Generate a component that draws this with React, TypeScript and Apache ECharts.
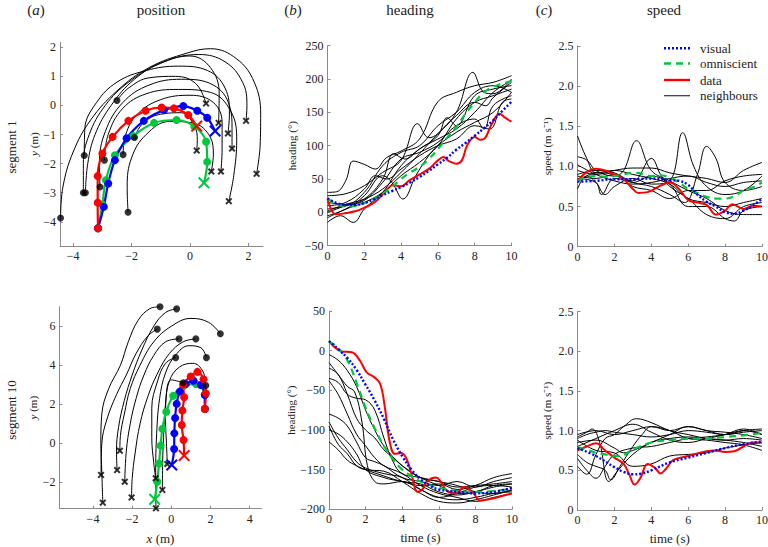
import React, { useEffect, useRef } from 'react';
import * as echarts from 'echarts';

const FONT = "'Liberation Serif', 'Times New Roman', serif";
const AXIS_COLOR = '#8a8a8a';
const TEXT_COLOR = '#222222';
const BLUE = '#0000ff';
const GREEN = '#00c83c';
const RED = '#ff0000';
const BLACK = '#000000';

// ---------- tick values ----------
const posTicksX1 = [-4, -2, 0, 2];
const posTicksY1 = [-4, -3, -2, -1, 0, 1, 2];
const posTicksX10 = [-4, -2, 0, 2, 4];
const posTicksY10 = [-2, 0, 2, 4, 6];

// ---------- segment 1 : positions (x, y in m) ----------
const posRed1 = [[-3.15, -4.22], [-3.16, -3.34], [-3.16, -2.43], [-3.0, -1.65], [-2.65, -1.08], [-2.11, -0.53], [-1.52, -0.18], [-0.97, -0.07], [-0.55, -0.1], [-0.06, -0.33], [0.23, -0.71]];
const posBlue1 = [[-3.15, -4.22], [-2.95, -3.48], [-2.8, -2.68], [-2.57, -1.88], [-2.17, -1.13], [-1.58, -0.53], [-0.89, -0.16], [-0.23, -0.02], [0.25, -0.18], [0.59, -0.42], [0.86, -0.88]];
const posGreen1 = [[-3.15, -4.22], [-3.0, -3.4], [-2.88, -2.57], [-2.57, -1.71], [-1.94, -1.05], [-1.23, -0.6], [-0.46, -0.5], [0.15, -0.72], [0.55, -1.25], [0.59, -1.94], [0.48, -2.66]];
const posNb1 = [
  [[-2.12, -3.67], [-2.15, -2.8], [-2.0, -1.8], [-1.5, -1.0], [-0.7, -0.55], [0.1, -0.6], [0.7, -1.1], [0.8, -1.7], [0.73, -2.27]],
  [[-1.9, -1.1], [-1.6, -0.6], [-1.0, -0.3], [-0.3, -0.25], [0.15, -0.7], [0.25, -1.2], [0.23, -1.55]],
  [[-2.29, -1.69], [-2.2, -1.0], [-1.8, -0.3], [-1.0, 0.2], [0.0, 0.35], [0.8, 0.1], [1.1, -0.6], [1.1, -1.5], [1.06, -2.27]],
  [[-2.93, -1.88], [-2.8, -1.0], [-2.3, -0.1], [-1.5, 0.4], [-0.4, 0.55], [0.7, 0.45], [1.4, -0.2], [1.6, -1.2], [1.5, -2.4], [1.33, -3.29]],
  [[-3.08, -2.8], [-3.1, -2.0], [-2.9, -0.9], [-2.3, 0.1], [-1.4, 0.7], [-0.3, 0.9], [0.8, 0.7], [1.35, 0.0], [1.44, -0.8], [1.44, -1.48]],
  [[-3.62, -1.72], [-3.6, -0.8], [-3.2, 0.1], [-2.5, 0.8], [-1.5, 1.2], [-0.4, 1.35], [0.6, 1.2], [1.2, 0.6], [1.35, -0.3], [1.3, -0.96]],
  [[-2.5, 0.17], [-2.1, 0.6], [-1.4, 0.95], [-0.5, 1.0], [0.2, 0.75], [0.55, 0.07]],
  [[-3.65, -3.0], [-3.65, -2.0], [-3.45, -1.0], [-2.9, 0.0], [-2.1, 0.8], [-1.0, 1.45], [0.0, 1.7], [0.7, 1.3], [1.0, 0.4], [0.98, -0.6]],
  [[-3.58, -3.0], [-3.5, -2.0], [-3.25, -1.0], [-2.7, 0.0], [-1.9, 0.9], [-0.9, 1.5], [0.3, 1.75], [1.2, 1.5], [1.8, 0.8], [1.95, 0.0], [1.92, -0.53]],
  [[-4.43, -3.87], [-4.35, -2.8], [-4.0, -1.6], [-3.4, -0.5], [-2.5, 0.5], [-1.4, 1.3], [-0.1, 1.8], [0.7, 1.95], [1.6, 1.6], [2.2, 0.8], [2.42, -0.3], [2.4, -1.4], [2.28, -2.35]],
];

// ---------- segment 10 : positions ----------
const posRed10 = [[1.71, 1.76], [1.76, 2.56], [1.64, 3.28], [1.33, 3.66], [0.99, 3.42], [0.6, 3.0], [0.65, 2.36], [0.56, 1.68], [0.53, 0.94], [0.62, 0.17], [0.65, -0.63]];
const posBlue10 = [[1.71, 1.76], [1.71, 2.48], [1.5, 2.99], [1.13, 3.21], [0.74, 3.04], [0.43, 2.65], [0.27, 2.02], [0.19, 1.3], [0.15, 0.51], [0.14, -0.29], [0.02, -1.11]];
const posGreen10 = [[1.71, 1.76], [1.7, 2.5], [1.25, 3.04], [0.62, 2.94], [0.09, 2.43], [-0.26, 1.62], [-0.46, 0.74], [-0.55, -0.12], [-0.63, -1.03], [-0.72, -1.97], [-0.85, -2.87]];
const posNb10 = [
  [[-0.58, 7.0], [-1.1, 6.9], [-1.7, 6.3], [-2.2, 5.2], [-2.6, 4.0], [-3.2, 2.8], [-3.55, 1.5], [-3.6, 0.0], [-3.55, -1.5], [-3.5, -3.04]],
  [[-0.72, 5.85], [-1.2, 5.5], [-1.8, 4.6], [-2.3, 3.5], [-2.8, 2.5], [-3.3, 1.2], [-3.55, 0.0], [-3.59, -1.62]],
  [[0.27, 6.89], [-0.3, 6.7], [-0.9, 6.0], [-1.5, 4.8], [-2.0, 3.5], [-2.4, 2.2], [-2.7, 0.8], [-2.8, -0.4], [-2.77, -1.37]],
  [[2.5, 5.61], [1.9, 6.2], [1.0, 6.4], [0.0, 6.0], [-0.9, 5.2], [-1.6, 4.0], [-2.1, 2.8], [-2.4, 1.5], [-2.6, 0.4], [-2.63, -0.38]],
  [[0.39, 5.35], [-0.3, 5.2], [-0.9, 4.5], [-1.4, 3.5], [-1.8, 2.3], [-2.1, 1.0], [-2.3, -0.4], [-2.38, -1.97]],
  [[1.25, 5.35], [0.6, 5.2], [-0.1, 4.6], [-0.7, 3.6], [-1.2, 2.4], [-1.6, 1.0], [-1.85, -0.5], [-2.0, -1.8], [-2.03, -2.77]],
  [[1.79, 4.39], [1.5, 4.9], [0.9, 5.0], [0.2, 4.5], [-0.3, 3.6], [-0.6, 2.3], [-0.75, 0.5], [-0.8, -1.5], [-0.79, -3.33]],
  [[0.22, 4.39], [-0.3, 4.1], [-0.7, 3.2], [-1.0, 1.8], [-1.0, 0.3], [-0.9, -1.0], [-0.8, -1.79]],
  [[1.76, 2.96], [1.6, 3.7], [1.1, 4.1], [0.4, 3.9], [-0.1, 3.2], [-0.3, 2.0], [-0.4, 0.3], [-0.45, -1.2], [-0.46, -2.39]],
  [[0.6, 3.1], [0.0, 3.25], [-0.25, 2.6], [-0.3, 1.2], [-0.25, 0.0], [-0.21, -1.06]],
];

// ---------- segment 1 : heading (t in s, heading in deg) ----------
const headRed1 = [[0, 21], [0.45, -3], [1, -1], [1.55, 2], [2, 7], [2.45, 13], [2.8, 21], [3.2, 33], [3.55, 41], [4, 39], [4.45, 48], [5, 57], [5.55, 66], [6, 78], [6.3, 83], [6.6, 77], [7, 73], [7.3, 78], [7.6, 101], [8, 113], [8.3, 109], [8.55, 111], [8.9, 131], [9.35, 148], [9.65, 142], [10, 136]];
const headBlue1 = [[0, 21], [0.5, 14], [1, 11], [1.5, 11], [2, 14], [2.5, 19], [3, 26], [3.5, 32], [4, 38], [4.5, 45], [5, 53], [5.5, 62], [6, 72], [6.5, 82], [7, 94], [7.5, 104], [8, 115], [8.5, 126], [9, 138], [9.5, 152], [10, 166]];
const headGreen1 = [[0, 21], [0.5, 12], [1, 9], [1.5, 10], [2, 14], [2.5, 20], [3, 28], [3.5, 38], [4, 50], [4.5, 60], [5, 68], [5.5, 80], [6, 95], [6.5, 112], [7, 128], [7.5, 148], [8, 165], [8.5, 180], [9, 188], [9.5, 193], [10, 197]];
const headNb1 = [
  [[0, 30], [0.5, 31], [1, 48], [1.4, 77], [2, 72], [2.6, 65], [3.2, 82], [4, 92], [5, 110], [6, 166], [7, 180], [8, 190], [9, 195], [10, 205]],
  [[0, 25], [1, 28], [2, 40], [3, 60], [4, 78], [4.9, 133], [5.5, 112], [6, 118], [7, 150], [7.9, 210], [8.5, 180], [9, 178], [10, 200]],
  [[0, 5], [1, 10], [2, 20], [3, 50], [3.6, 88], [4.2, 80], [5, 95], [6, 115], [6.5, 142], [7, 130], [8, 175], [9, 185], [10, 190]],
  [[0, -15], [0.7, -5], [1.4, -15], [2, 5], [3, 30], [4, 70], [5, 95], [6, 110], [7, 125], [8, 150], [9, 180], [10, 198]],
  [[0, -5], [1, 5], [2, 25], [3, 55], [3.5, 45], [4.1, 20], [4.8, 55], [5.5, 85], [6, 100], [7, 120], [8, 135], [9, 150], [10, 180]],
  [[0, 0], [1, 10], [2, 18], [3, 45], [4, 80], [5, 90], [6, 105], [7, 130], [8, 140], [8.5, 125], [9, 160], [10, 175]],
  [[0, 10], [1, 15], [2, 35], [2.6, 55], [3.2, 50], [4, 65], [5, 85], [6, 100], [7, 110], [8, 130], [8.8, 125], [9.5, 165], [10, 170]],
  [[0, -8], [1, 5], [2, 15], [3, 30], [4, 55], [5, 75], [6, 100], [7, 140], [8, 165], [9, 175], [10, 185]],
  [[0, 2], [1, 12], [2, 20], [3, 35], [4, 60], [5, 88], [6, 118], [7, 145], [8, 165], [8.6, 160], [9, 172], [10, 195]],
  [[0, 15], [1, 12], [2, 30], [3, 70], [4, 90], [5, 100], [6, 130], [7, 150], [8, 180], [9, 190], [10, 180]],
];

// ---------- segment 10 : heading ----------
const headRed10 = [[0, 12], [0.7, -1], [1.25, -2], [1.7, -13], [2.05, -27], [2.5, -34], [2.8, -42], [3.05, -71], [3.3, -113], [3.6, -130], [3.95, -129], [4.25, -137], [4.5, -155], [4.85, -178], [5.1, -175], [5.4, -164], [5.85, -160], [6.1, -165], [6.45, -177], [6.9, -180], [7.4, -172], [7.9, -180], [8.25, -189], [8.8, -187], [9.5, -183], [10, -180]];
const headBlue10 = [[0, 12], [0.5, 2], [1, -9], [1.5, -24], [2, -43], [2.5, -63], [3, -86], [3.5, -112], [4, -133], [4.5, -150], [5, -162], [5.5, -170], [6, -175], [7, -178], [8, -180], [9, -178], [10, -173]];
const headGreen10 = [[0, 12], [0.5, 3], [1, -12], [1.5, -40], [2, -72], [2.5, -98], [3, -120], [3.5, -137], [4, -150], [4.5, -158], [5, -165], [6, -173], [7, -177], [8, -178], [9, -177], [10, -174]];
const headNb10 = [
  [[0, -5], [0.5, -12], [1, -25], [1.5, -45], [2, -75], [2.5, -100], [3, -120], [4, -145], [5, -160], [6, -165], [7, -172], [8, -170], [9, -168], [10, -165]],
  [[0, -15], [0.5, -30], [1, -45], [1.4, -52], [1.8, -90], [2.1, -145], [2.5, -165], [3, -168], [4, -165], [5, -175], [6, -185], [7, -180], [8, -172], [9, -170], [10, -172]],
  [[0, -22], [0.5, -30], [1, -55], [1.5, -85], [2, -100], [2.5, -110], [3, -125], [3.5, -135], [4, -145], [5, -160], [6, -170], [7, -180], [8, -178], [9, -170], [10, -168]],
  [[0, -35], [0.5, -40], [1, -55], [1.5, -60], [2, -62], [2.5, -75], [3, -110], [3.5, -140], [4, -155], [5, -160], [6, -165], [7, -170], [8, -178], [9, -180], [10, -175]],
  [[0, -38], [0.5, -55], [1, -80], [1.5, -105], [2, -120], [2.5, -135], [3, -145], [4, -155], [5, -170], [6, -180], [7, -185], [8, -190], [9, -185], [10, -180]],
  [[0, -80], [0.5, -85], [1, -95], [1.5, -115], [2, -135], [2.5, -140], [3, -145], [4, -160], [5, -165], [6, -170], [7, -165], [8, -172], [9, -165], [10, -160]],
  [[0, -90], [0.5, -110], [1, -125], [1.5, -140], [2, -148], [3, -155], [4, -160], [5, -175], [6, -185], [7, -188], [8, -185], [9, -180], [10, -178]],
  [[0, -95], [0.5, -118], [1, -130], [1.5, -145], [2, -150], [3, -152], [4, -165], [5, -180], [6, -190], [7, -192], [8, -188], [9, -182], [10, -176]],
  [[0, -100], [0.5, -105], [1, -115], [1.5, -130], [2, -150], [3, -160], [4, -165], [5, -170], [6, -168], [7, -175], [8, -170], [9, -160], [10, -155]],
  [[0, -115], [0.5, -125], [1, -138], [1.5, -145], [2, -150], [3, -158], [4, -165], [5, -168], [6, -178], [7, -182], [8, -178], [9, -172], [10, -168]],
];

// ---------- segment 1 : speed (m/s) ----------
const speedRed1 = [[0, 0.82], [0.5, 0.93], [1, 0.97], [1.5, 0.95], [2, 0.9], [2.5, 0.84], [3, 0.72], [3.3, 0.67], [3.8, 0.68], [4.5, 0.76], [5, 0.8], [5.5, 0.72], [6, 0.58], [6.5, 0.55], [7, 0.52], [7.5, 0.4], [8, 0.45], [8.4, 0.53], [9, 0.47], [9.5, 0.51], [10, 0.5]];
const speedBlue1 = [[0, 0.81], [1, 0.82], [2, 0.84], [3, 0.84], [4, 0.85], [5, 0.83], [5.5, 0.82], [6, 0.77], [6.5, 0.65], [7, 0.56], [7.5, 0.5], [8, 0.43], [8.5, 0.41], [9, 0.45], [9.5, 0.51], [10, 0.6]];
const speedGreen1 = [[0, 0.82], [0.5, 0.87], [1, 0.88], [1.5, 0.87], [2, 0.88], [2.5, 0.9], [3, 0.92], [3.5, 0.91], [4, 0.88], [4.5, 0.89], [5, 0.86], [5.5, 0.8], [6, 0.72], [6.5, 0.67], [7, 0.62], [7.5, 0.6], [8, 0.6], [8.5, 0.63], [9, 0.7], [9.5, 0.74], [10, 0.8]];
const speedNb1 = [
  [[0, 1.38], [0.5, 1.1], [1, 0.92], [2, 0.95], [3, 0.9], [4, 0.85], [5, 0.78], [6, 0.6], [7, 0.55], [8, 0.5], [9, 0.55], [10, 0.6]],
  [[0, 1.12], [0.5, 1.08], [1, 0.95], [2, 0.88], [2.5, 0.95], [3.2, 1.32], [4, 0.95], [5, 0.82], [6, 0.7], [7, 0.6], [8, 0.45], [9, 0.4], [10, 0.4]],
  [[0, 0.72], [0.5, 0.88], [1, 0.8], [1.5, 0.65], [2, 0.75], [3, 0.85], [4, 0.78], [5, 0.82], [5.7, 1.42], [6.3, 1.0], [7, 0.75], [8, 0.65], [9, 0.7], [10, 0.88]],
  [[0, 0.88], [1, 0.85], [2, 0.9], [3, 0.8], [4, 0.75], [5, 0.65], [5.8, 0.55], [6.5, 0.9], [7, 1.25], [7.5, 1.1], [8, 0.8], [9, 0.7], [10, 0.75]],
  [[0, 0.95], [1, 0.9], [2, 0.95], [3, 0.98], [4, 0.98], [5, 0.92], [6, 0.88], [7, 0.85], [8, 0.8], [9, 0.95], [10, 1.05]],
  [[0, 0.85], [1, 0.8], [1.3, 0.65], [2, 0.85], [3, 0.82], [4, 1.1], [4.5, 0.9], [5, 0.75], [6, 0.6], [7, 0.4], [8, 0.35], [9, 0.5], [10, 0.55]],
  [[0, 0.8], [1, 0.92], [2, 0.9], [3, 0.75], [4, 0.7], [5, 0.6], [6, 0.7], [7, 0.7], [8, 0.82], [9, 0.88], [10, 0.9]],
  [[0, 0.9], [1, 0.95], [2, 0.92], [3, 0.8], [4, 0.88], [5, 0.78], [6, 0.5], [7, 0.5], [8, 0.35], [8.5, 0.32], [9, 0.45], [10, 0.5]],
  [[0, 1.02], [1, 0.9], [2, 0.82], [3, 0.78], [4, 0.8], [5, 0.85], [6, 0.88], [7, 0.8], [8, 0.75], [9, 0.8], [10, 0.82]],
];

// ---------- segment 10 : speed ----------
const speedRed10 = [[0, 0.75], [0.5, 0.8], [1, 0.84], [1.5, 0.75], [2, 0.66], [2.5, 0.58], [2.8, 0.45], [3.1, 0.32], [3.4, 0.4], [3.8, 0.58], [4.2, 0.53], [4.5, 0.46], [4.8, 0.52], [5.2, 0.63], [6, 0.68], [7, 0.74], [7.5, 0.75], [8, 0.73], [8.5, 0.74], [9, 0.8], [9.5, 0.85], [10, 0.85]];
const speedBlue10 = [[0, 0.78], [1, 0.68], [2, 0.54], [2.5, 0.48], [3, 0.45], [3.5, 0.46], [4, 0.5], [5, 0.6], [6, 0.66], [7, 0.72], [8, 0.78], [9, 0.83], [10, 0.86]];
const speedGreen10 = [[0, 0.79], [0.5, 0.76], [1, 0.72], [1.5, 0.7], [2, 0.68], [2.3, 0.68], [3, 0.76], [4, 0.85], [5, 0.88], [6, 0.9], [7, 0.9], [8, 0.92], [9, 0.94], [10, 0.97]];
const speedNb10 = [
  [[0, 0.9], [0.5, 0.95], [1, 0.98], [1.5, 1.0], [2, 0.98], [3, 0.95], [4, 0.92], [5, 0.95], [6, 1.0], [7, 0.98], [8, 0.95], [9, 1.0], [10, 1.02]],
  [[0, 0.55], [0.5, 0.45], [1, 0.7], [1.5, 0.9], [2, 0.95], [2.5, 1.05], [3.2, 1.15], [4, 1.1], [5, 1.0], [6, 0.95], [7, 0.9], [8, 0.88], [9, 0.9], [10, 0.88]],
  [[0, 0.65], [0.5, 0.5], [1, 0.4], [1.5, 0.55], [2, 0.7], [3, 0.78], [4, 0.8], [5, 0.85], [6, 0.9], [7, 0.92], [8, 0.95], [9, 1.0], [10, 0.95]],
  [[0, 0.92], [0.5, 0.98], [0.8, 1.02], [1.2, 0.85], [1.7, 0.36], [2.2, 0.5], [3, 0.7], [4, 0.85], [5, 0.9], [6, 0.92], [7, 0.9], [8, 0.88], [9, 0.85], [10, 0.8]],
  [[0, 0.85], [1, 0.88], [2, 0.78], [2.5, 0.72], [3, 0.75], [4, 0.85], [5, 0.95], [6, 1.05], [7, 1.0], [8, 0.98], [9, 0.95], [10, 0.9]],
  [[0, 0.7], [0.5, 0.6], [1, 0.55], [1.5, 0.5], [1.8, 0.38], [2.3, 0.55], [3, 0.8], [3.5, 0.95], [4, 1.05], [5, 1.0], [6, 0.9], [7, 0.88], [8, 0.85], [9, 0.82], [10, 0.75]],
  [[0, 0.88], [1, 0.75], [2, 0.72], [3, 0.55], [4, 0.58], [5, 0.68], [6, 0.7], [7, 0.72], [8, 0.78], [9, 0.82], [10, 0.85]],
  [[0, 0.95], [1, 1.0], [2, 0.95], [3, 1.0], [4, 1.05], [5, 1.0], [6, 1.05], [7, 1.0], [8, 0.95], [9, 0.98], [10, 1.0]],
  [[0, 0.8], [1, 0.9], [2, 1.0], [3, 1.08], [4, 0.98], [5, 0.88], [6, 0.85], [7, 0.9], [8, 0.95], [9, 1.02], [10, 0.95]],
];

// ---------- legend ----------
const legendNames = ['visual', 'omniscient', 'data', 'neighbours'];

// ---------- helpers ----------
const CROSS_THIN = 'path://M1.2,0L5,3.8L8.8,0L10,1.2L6.2,5L10,8.8L8.8,10L5,6.2L1.2,10L0,8.8L3.8,5L0,1.2Z';
const CROSS_BOLD = 'path://M2,0L5,3L8,0L10,2L7,5L10,8L8,10L5,7L2,10L0,8L3,5L0,2Z';
const minus = (v: number) => String(v).replace('-', '\u2212');

const grids = [
  { left: 60, top: 42.3, width: 203, height: 203.7 },
  { left: 327.5, top: 45.7, width: 184, height: 200 },
  { left: 577.5, top: 46, width: 184.5, height: 200.7 },
  { left: 59.5, top: 306.7, width: 202, height: 202 },
  { left: 329, top: 311, width: 183, height: 198.3 },
  { left: 577.5, top: 311.5, width: 184.5, height: 198.5 },
];

function axisBase(gi: number) {
  return {
    type: 'value',
    gridIndex: gi,
    axisLine: { show: true, onZero: false, lineStyle: { color: AXIS_COLOR, width: 1 } },
    axisTick: { show: true, inside: true, length: 3, lineStyle: { color: AXIS_COLOR } },
    splitLine: { show: false },
    axisLabel: { color: TEXT_COLOR, fontFamily: FONT, fontSize: 12, margin: 4, formatter: minus },
    nameTextStyle: {
      fontFamily: FONT,
      fontSize: 11,
      color: TEXT_COLOR,
      rich: { i: { fontStyle: 'italic', fontFamily: FONT, fontSize: 11, color: TEXT_COLOR } },
    },
  };
}

function withCustom(ax: any, ticks: number[]) {
  return {
    ...ax,
    axisTick: { ...ax.axisTick, customValues: ticks },
    axisLabel: { ...ax.axisLabel, customValues: ticks },
  };
}

function trackSeries(gi: number, pts: number[][], color: string, dash: any) {
  return {
    type: 'line',
    xAxisIndex: gi,
    yAxisIndex: gi,
    smooth: 0.35,
    symbol: 'circle',
    symbolSize: 8,
    showSymbol: true,
    itemStyle: { color },
    lineStyle: { color, width: 2.2, type: dash },
    data: pts.map((p, i) => (i === pts.length - 1 ? { value: p, symbol: CROSS_THIN, symbolSize: 12 } : p)),
    silent: true,
  };
}

function nbLines(gi: number, tracks: number[][][]) {
  return tracks.map((t) => ({
    type: 'line',
    xAxisIndex: gi,
    yAxisIndex: gi,
    smooth: 0.4,
    showSymbol: false,
    lineStyle: { color: BLACK, width: 1 },
    data: t,
    silent: true,
  }));
}

function nbMarkers(gi: number, tracks: number[][][]) {
  return [
    {
      type: 'scatter',
      xAxisIndex: gi,
      yAxisIndex: gi,
      symbol: 'circle',
      symbolSize: 7,
      itemStyle: { color: BLACK },
      data: tracks.map((t) => t[0]),
      silent: true,
      z: 5,
    },
    {
      type: 'scatter',
      xAxisIndex: gi,
      yAxisIndex: gi,
      symbol: CROSS_BOLD,
      symbolSize: 7,
      itemStyle: { color: BLACK },
      data: tracks.map((t) => t[t.length - 1]),
      silent: true,
      z: 5,
    },
  ];
}

function timeSeries(gi: number, pts: number[][], color: string, dash: any, width: number) {
  return {
    type: 'line',
    xAxisIndex: gi,
    yAxisIndex: gi,
    smooth: 0.4,
    showSymbol: false,
    lineStyle: { color, width, type: dash },
    data: pts,
    silent: true,
  };
}

function timeNb(gi: number, tracks: number[][][]) {
  return tracks.map((t) => timeSeries(gi, t, BLACK, 'solid', 1));
}

function buildOption() {
  const speedFmt = (v: number) => (v === 0 ? '0' : v.toFixed(1));
  const xAxes: any[] = [
    withCustom({ ...axisBase(0), min: -4.45, max: 2.5 }, posTicksX1),
    { ...axisBase(1), min: 0, max: 10, interval: 2 },
    { ...axisBase(2), min: 0, max: 10, interval: 2 },
    withCustom({ ...axisBase(3), min: -5.71, max: 4.6, name: '{i|x} (m)', nameLocation: 'middle', nameGap: 23 }, posTicksX10),
    { ...axisBase(4), min: 0, max: 10, interval: 2, name: 'time (s)', nameLocation: 'middle', nameGap: 22 },
    { ...axisBase(5), min: 0, max: 10, interval: 2, name: 'time (s)', nameLocation: 'middle', nameGap: 22 },
  ];
  xAxes[3].nameTextStyle = { ...xAxes[3].nameTextStyle, fontSize: 13, rich: { i: { fontStyle: 'italic', fontFamily: FONT, fontSize: 13, color: TEXT_COLOR } } };
  xAxes[4].nameTextStyle = { ...xAxes[4].nameTextStyle, fontSize: 13 };
  xAxes[5].nameTextStyle = { ...xAxes[5].nameTextStyle, fontSize: 13 };

  const yAxes: any[] = [
    withCustom({ ...axisBase(0), min: -4.83, max: 2.17, name: '{i|y} (m)', nameLocation: 'middle', nameGap: 17 }, posTicksY1),
    { ...axisBase(1), min: -50, max: 250, interval: 50, name: 'heading (\u00b0)', nameLocation: 'middle', nameGap: 30 },
    { ...axisBase(2), min: 0, max: 2.5, interval: 0.5, name: 'speed (m s\u207b\u00b9)', nameLocation: 'middle', nameGap: 25 },
    withCustom({ ...axisBase(3), min: -3.35, max: 7.0, name: '{i|y} (m)', nameLocation: 'middle', nameGap: 17 }, posTicksY10),
    { ...axisBase(4), min: -200, max: 50, interval: 50, name: 'heading (\u00b0)', nameLocation: 'middle', nameGap: 30 },
    { ...axisBase(5), min: 0, max: 2.5, interval: 0.5, name: 'speed (m s\u207b\u00b9)', nameLocation: 'middle', nameGap: 25 },
  ];
  yAxes[2].axisLabel = { ...yAxes[2].axisLabel, formatter: speedFmt };
  yAxes[5].axisLabel = { ...yAxes[5].axisLabel, formatter: speedFmt };

  const series: any[] = [
    ...nbLines(0, posNb1),
    trackSeries(0, posGreen1, GREEN, 'solid'),
    trackSeries(0, posBlue1, BLUE, 'solid'),
    trackSeries(0, posRed1, RED, 'solid'),
    ...nbMarkers(0, posNb1),
    ...nbLines(3, posNb10),
    trackSeries(3, posGreen10, GREEN, 'solid'),
    trackSeries(3, posBlue10, BLUE, 'solid'),
    trackSeries(3, posRed10, RED, 'solid'),
    ...nbMarkers(3, posNb10),
    ...timeNb(1, headNb1),
    timeSeries(1, headRed1, RED, 'solid', 2),
    timeSeries(1, headGreen1, GREEN, [7, 5], 2.2),
    timeSeries(1, headBlue1, BLUE, [2, 2], 2.4),
    ...timeNb(4, headNb10),
    timeSeries(4, headRed10, RED, 'solid', 2),
    timeSeries(4, headGreen10, GREEN, [7, 5], 2.2),
    timeSeries(4, headBlue10, BLUE, [2, 2], 2.4),
    ...timeNb(2, speedNb1),
    timeSeries(2, speedRed1, RED, 'solid', 2),
    timeSeries(2, speedGreen1, GREEN, [7, 5], 2.2),
    timeSeries(2, speedBlue1, BLUE, [2, 2], 2.4),
    ...timeNb(5, speedNb10),
    timeSeries(5, speedRed10, RED, 'solid', 2),
    timeSeries(5, speedGreen10, GREEN, [7, 5], 2.2),
    timeSeries(5, speedBlue10, BLUE, [2, 2], 2.4),
  ];

  const txt = (x: number, y: number, text: string, size: number, extra: any = {}) => ({
    type: 'text',
    x,
    y,
    silent: true,
    ...extra,
    style: {
      text,
      fontFamily: FONT,
      fontSize: size,
      fill: TEXT_COLOR,
      align: 'center',
      verticalAlign: 'middle',
      rich: { i: { fontStyle: 'italic', fontFamily: FONT, fontSize: size, fill: TEXT_COLOR } },
    },
  });

  const legendStyles = [
    { color: BLUE, dash: [2, 2], width: 2.4 },
    { color: GREEN, dash: [7, 5], width: 2.4 },
    { color: RED, dash: null, width: 2.4 },
    { color: '#333333', dash: null, width: 1.2 },
  ];
  const legendY = [48.3, 63.5, 80, 95.7];
  const legendEls: any[] = [];
  legendNames.forEach((name, i) => {
    legendEls.push({
      type: 'line',
      silent: true,
      shape: { x1: 664, y1: legendY[i], x2: 690, y2: legendY[i] },
      style: { stroke: legendStyles[i].color, lineWidth: legendStyles[i].width, lineDash: legendStyles[i].dash },
    });
    legendEls.push({
      type: 'text',
      silent: true,
      x: 700,
      y: legendY[i],
      style: { text: name, fontFamily: FONT, fontSize: 13, fill: TEXT_COLOR, align: 'left', verticalAlign: 'middle' },
    });
  });

  const graphic: any[] = [
    txt(36, 10, '({i|a})', 15),
    txt(161, 10, 'position', 15),
    txt(293, 10, '({i|b})', 15),
    txt(410, 10, 'heading', 15),
    txt(544, 10, '({i|c})', 15),
    txt(664, 10, 'speed', 15),
    txt(11, 147, 'segment 1', 13, { rotation: Math.PI / 2 }),
    txt(11, 410, 'segment 10', 13, { rotation: Math.PI / 2 }),
    ...legendEls,
  ];

  return {
    animation: false,
    backgroundColor: '#ffffff',
    grid: grids.map((g) => ({ ...g, containLabel: false, outerBoundsMode: 'none' })),
    xAxis: xAxes,
    yAxis: yAxes,
    series,
    graphic,
  };
}

export default function App() {
  const ref = useRef<HTMLDivElement>(null);
  useEffect(() => {
    if (!ref.current) return;
    const chart = echarts.init(ref.current, null, { renderer: 'svg' });
    chart.setOption(buildOption() as any);
    return () => chart.dispose();
  }, []);
  return (
    <div
      ref={ref}
      style={{ position: 'fixed', left: 0, top: 0, width: 768, height: 547, background: '#fff' }}
    />
  );
}
